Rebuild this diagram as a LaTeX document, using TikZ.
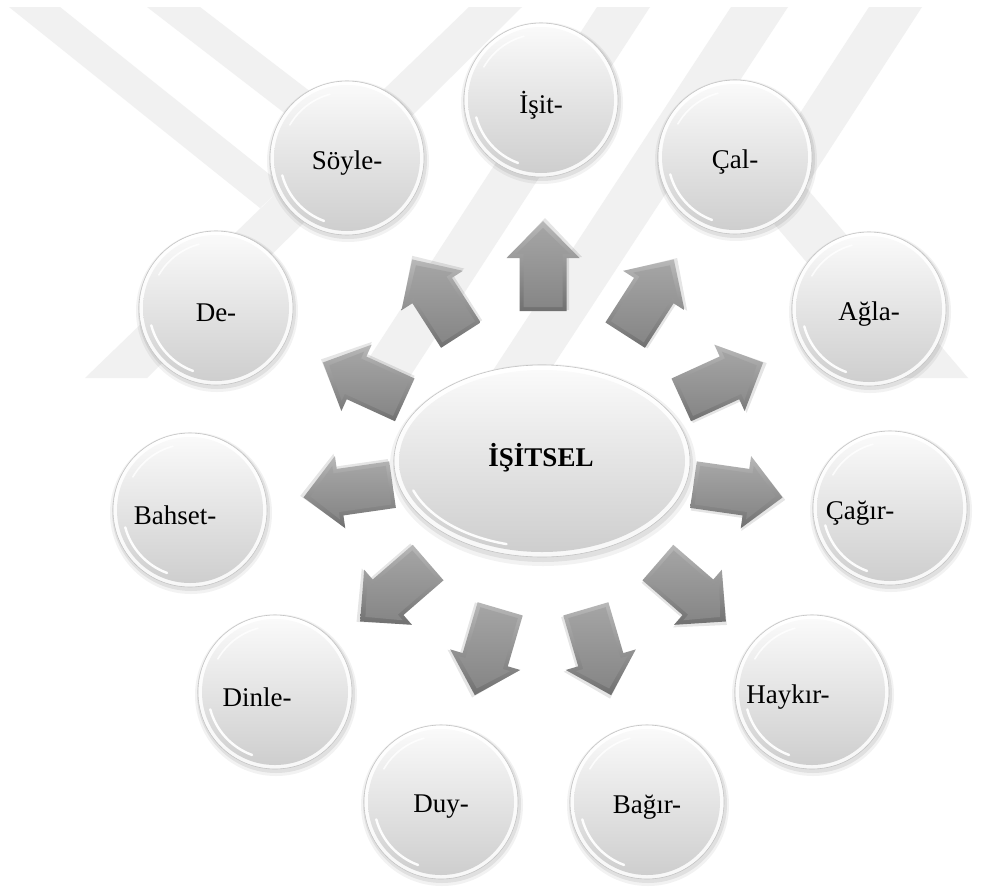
\documentclass[tikz,border=0pt]{standalone}
\usepackage{fontspec}
\setmainfont{Liberation Serif}

% palette
\definecolor{wm}{RGB}{241,241,241}
\definecolor{arrowhi}{RGB}{184,184,184}
\definecolor{arrowlo}{RGB}{112,112,112}
\definecolor{facehi}{RGB}{164,164,164}
\definecolor{facelo}{RGB}{134,134,134}
\definecolor{ballTop}{RGB}{250,250,250}
\definecolor{ballBottom}{RGB}{206,206,206}
\definecolor{ballRim}{RGB}{196,196,196}

\tikzset{
  lbl/.style={font=\fontsize{27}{30}\selectfont, text=black, inner sep=0pt},
  wmark/.style={fill=wm, draw=none},
  arrowbody/.style={top color=arrowhi, bottom color=arrowlo},
  arrowface/.style={top color=facehi, bottom color=facelo},
}

% a glossy sphere with its label: name, x, y, label x-offset, text
\newcommand{\ballat}[5]{%
  \fill[black, opacity=0.05] (#2+1,#3-3) circle (81);
  \fill[black, opacity=0.07] (#2+1,#3-2) circle (79);
  \shade[top color=white, bottom color=gray!6] (#2,#3) circle (77);
  \shade[top color=ballTop, bottom color=ballBottom] (#2,#3) circle (73);
  \draw[ballRim, line width=0.6] (#2,#3) circle (77);
  \draw[white, line width=2.4, opacity=0.95, line cap=round] (#2,#3) ++(195:67) arc (195:250:67);
  \draw[white, line width=1.6, opacity=0.8, line cap=round] (#2,#3) ++(105:66) arc (105:150:66);
  \node[lbl] (#1) at (#2+#4,#3-5) {#5};
}

% a bevelled block arrow leaving the hub in direction #1
\newcommand{\dirarrow}[1]{%
  \begin{scope}[shift={(543,-463)}, rotate=#1, shift={(197,0)}]
    \fill[black, opacity=0.10] (-44,-26) -- (9,-26) -- (9,-39) -- (48,-2) -- (9,35) -- (9,22) -- (-44,22) -- cycle;
    \shade[arrowbody] (-45,-23.5) -- (8,-23.5) -- (8,-36.5) -- (45,0) -- (8,36.5) -- (8,23.5) -- (-45,23.5) -- cycle;
    \shade[arrowface] (-41,-19.5) -- (12,-19.5) -- (12,-27) -- (38,0) -- (12,27) -- (12,19.5) -- (-41,19.5) -- cycle;
  \end{scope}}

\begin{document}
\begin{tikzpicture}[x=1pt, y=1pt]
\useasboundingbox (0,0) rectangle (981,-886);
\fill[white] (0,0) rectangle (981,-886);

% faint striped emblem in the background
\fill[wmark] (9,-7) -- (60,-7) -- (284,-186) -- (260,-208) -- cycle;
\fill[wmark] (147,-7) -- (200,-7) -- (350,-122) -- (326,-145) -- cycle;
\fill[wmark] (469,-7) -- (522,-7) -- (147,-378) -- (85,-378) -- cycle;
\fill[wmark] (597,-7) -- (650,-7) -- (409,-378) -- (356,-378) -- cycle;
\fill[wmark] (731,-7) -- (788,-7) -- (545,-378) -- (488,-378) -- cycle;
\fill[wmark] (869,-7) -- (922,-7) -- (797,-200) -- (750,-190) -- cycle;
\fill[wmark] (735,-178) -- (798,-178) -- (968,-378) -- (905,-378) -- cycle;

% eleven arrows, evenly spread round the hub
\foreach \k in {0,...,10} {
  \pgfmathsetmacro{\ang}{90-\k*360/11}
  \dirarrow{\ang}
}

% hub
\fill[black, opacity=0.05] (543,-465) ellipse [x radius=153, y radius=101];
\fill[black, opacity=0.07] (543,-464) ellipse [x radius=150, y radius=98];
\shade[top color=white, bottom color=gray!6] (542,-461) ellipse [x radius=148, y radius=96];
\shade[top color=ballTop, bottom color=ballBottom] (542,-461) ellipse [x radius=143, y radius=91];
\draw[ballRim, line width=0.6] (542,-461) ellipse [x radius=148, y radius=96];
\draw[white, line width=2.4, opacity=0.95, line cap=round] (542,-461) ++(200:137 and 86) arc [start angle=200, end angle=255, x radius=137, y radius=86];
\node[lbl, font=\bfseries\fontsize{27}{30}\selectfont] (hub) at (541,-458) {İŞİTSEL};

% satellites
\ballat{isit}{541}{-100}{0}{İşit-}
\ballat{cal}{735}{-157}{0}{Çal-}
\ballat{agla}{869}{-309}{0}{Ağla-}
\ballat{cagir}{890}{-508}{-30}{Çağır-}
\ballat{haykir}{812}{-692}{-24}{Haykır-}
\ballat{bagir}{647}{-802}{0}{Bağır-}
\ballat{duy}{441}{-802}{0}{Duy-}
\ballat{dinle}{275}{-692}{-18}{Dinle-}
\ballat{bahset}{190}{-510}{-15}{Bahset-}
\ballat{de}{216}{-308}{0}{De-}
\ballat{soyle}{347}{-158}{0}{Söyle-}
\end{tikzpicture}
\end{document}
